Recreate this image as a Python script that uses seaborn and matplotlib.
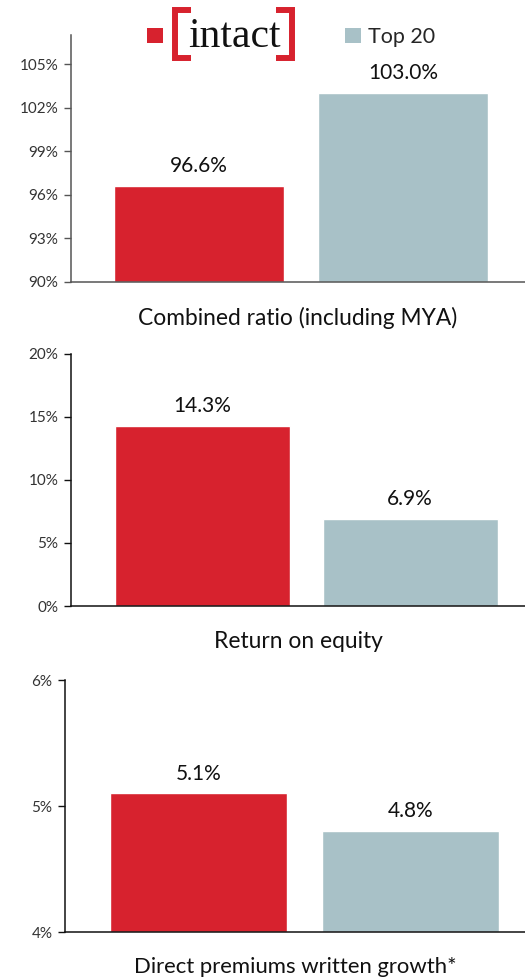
import matplotlib
matplotlib.use("Agg")
import matplotlib.pyplot as plt
from matplotlib.patches import Patch
from matplotlib.lines import Line2D
import seaborn as sns
import pandas as pd

# chart data
companies = ["Intact", "Top 20"]
metrics = ["Combined ratio (including MYA)", "Return on equity", "Direct premiums written growth*"]
combined_ratio = [96.6, 103.0]
return_on_equity = [14.3, 6.9]
dpw_growth = [5.1, 4.8]
value_labels = [["96.6%", "103.0%"], ["14.3%", "6.9%"], ["5.1%", "4.8%"]]
y_ticks = [[90, 93, 96, 99, 102, 105], [0, 5, 10, 15, 20], [4, 5, 6]]
y_limits = [(90, 107), (0, 20), (4, 6)]

RED = "#D7222E"
GRAY = "#A8C1C7"
W, H = 525, 977

sns.set_style("ticks")
plt.rcParams["font.family"] = ["Lato", "DejaVu Sans"]

fig = plt.figure(figsize=(W / 100, H / 100), dpi=100)

# axes boxes in pixels: left, right, top, bottom; plus x-limits and bar widths
boxes = [(71, 525, 35, 282), (71, 525, 354, 606), (65, 525, 680, 932)]
xlims = [(-0.627, 1.598), (-0.634, 1.554), (-0.630, 1.540)]
widths = [0.833, 0.843, 0.835]
spine_colors = ["#555555", "#111111", "#111111"]
title_sizes = [16.4, 16.4, 15.9]

series = [combined_ratio, return_on_equity, dpw_growth]
for i, vals in enumerate(series):
    l, r, t, b = boxes[i]
    ax = fig.add_axes([l / W, 1 - b / H, (r - l) / W, (b - t) / H])
    df = pd.DataFrame({"company": companies, "value": vals})
    sns.barplot(data=df, x="company", y="value", hue="company",
                palette=[RED, GRAY], width=widths[i], ax=ax,
                legend=False, saturation=1)
    lo, hi = y_limits[i]
    for bar in ax.patches:
        bar.set_y(lo)
        bar.set_height(bar.get_height() - lo)
    for c, lab in zip(ax.containers, value_labels[i]):
        ax.bar_label(c, labels=[lab], padding=7, fontsize=15, color="#111111")
    ax.set_ylim(lo, hi)
    ax.set_xlim(*xlims[i])
    ax.set_yticks(y_ticks[i])
    ax.set_yticklabels([f"{v}%" for v in y_ticks[i]], fontsize=11, color="#333333")
    ax.set_xticks([])
    ax.set_ylabel("")
    ax.set_xlabel(metrics[i], fontsize=title_sizes[i], color="#111111", labelpad=18)
    ax.tick_params(axis="y", length=5, width=1, color=spine_colors[i], pad=4)
    sns.despine(ax=ax)
    for s in ("left", "bottom"):
        ax.spines[s].set_color(spine_colors[i])
        ax.spines[s].set_linewidth(1.1)

# legend
handles = [Patch(facecolor=RED, edgecolor="none"), Patch(facecolor=GRAY, edgecolor="none")]
fig.legend(handles, ["", companies[1]], ncol=2, loc="center left",
           bbox_to_anchor=(147 / W, 1 - 37 / H), frameon=False,
           fontsize=15.5, handlelength=0.75, handleheight=0.75,
           handletextpad=0.3, columnspacing=8.15, borderpad=0, borderaxespad=0)

# intact wordmark
fig.text(234 / W, 1 - 47 / H, "intact", family="Liberation Serif", fontsize=30,
         ha="center", va="baseline", color="#111111")
for xs in ([191, 175, 175, 191], [276, 292, 292, 276]):
    ys = [10, 10, 58, 58]
    fig.add_artist(Line2D([x / W for x in xs], [1 - y / H for y in ys],
                          transform=fig.transFigure, color=RED, lw=4.3,
                          solid_joinstyle="miter", solid_capstyle="butt"))

fig.savefig("out.png", dpi=100)
